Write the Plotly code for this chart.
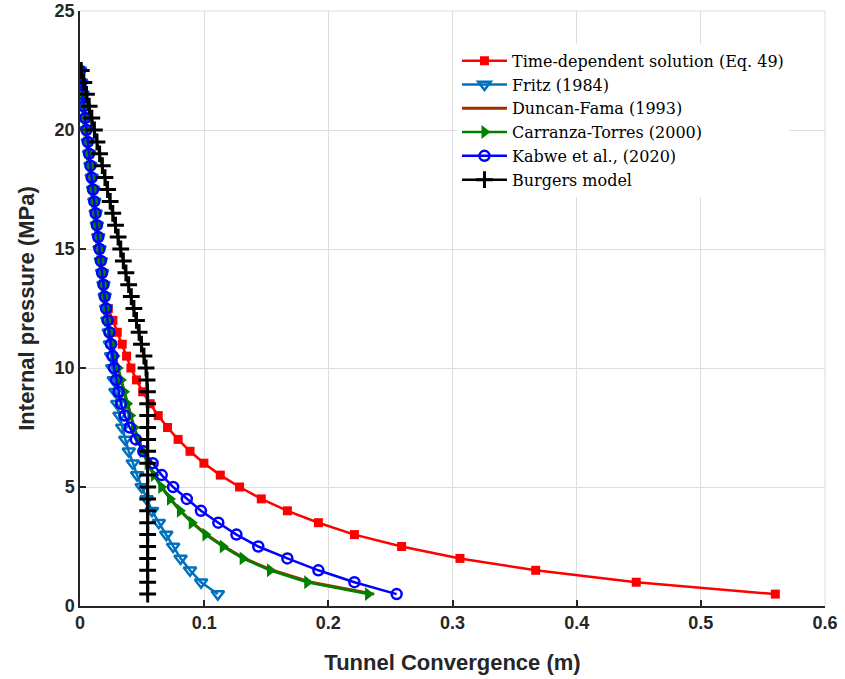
import plotly.graph_objects as go

# Internal pressure (MPa), 22.5 -> 0.5 in 0.5 steps
pressure = [22.5, 22.0, 21.5, 21.0, 20.5, 20.0, 19.5, 19.0, 18.5, 18.0,
            17.5, 17.0, 16.5, 16.0, 15.5, 15.0, 14.5, 14.0, 13.5, 13.0,
            12.5, 12.0, 11.5, 11.0, 10.5, 10.0, 9.5, 9.0, 8.5, 8.0,
            7.5, 7.0, 6.5, 6.0, 5.5, 5.0, 4.5, 4.0, 3.5, 3.0,
            2.5, 2.0, 1.5, 1.0, 0.5]

time_dependent = [0.0000, 0.0010, 0.0021, 0.0031, 0.0042, 0.0052, 0.0063, 0.0073, 0.0084, 0.0094,
                  0.0105, 0.0115, 0.0126, 0.0136, 0.0147, 0.0157, 0.0168, 0.0178, 0.0189, 0.0199,
                  0.0228, 0.0265, 0.0300, 0.0340, 0.0375, 0.0410, 0.0455, 0.0505, 0.0565, 0.0630,
                  0.0705, 0.0790, 0.0886, 0.0998, 0.1130, 0.1285, 0.1460, 0.1670, 0.1920, 0.2210,
                  0.2590, 0.3060, 0.3670, 0.4480, 0.5600]

fritz = [0.0000, 0.0010, 0.0021, 0.0031, 0.0042, 0.0052, 0.0063, 0.0073, 0.0084, 0.0094,
         0.0105, 0.0115, 0.0126, 0.0136, 0.0147, 0.0157, 0.0168, 0.0178, 0.0189, 0.0199,
         0.0210, 0.0220, 0.0231, 0.0241, 0.0250, 0.0260, 0.0272, 0.0285, 0.0300, 0.0318,
         0.0340, 0.0365, 0.0393, 0.0425, 0.0460, 0.0497, 0.0537, 0.0580, 0.0635, 0.0695,
         0.0750, 0.0810, 0.0886, 0.0975, 0.1110]

duncan_fama = [0.0000, 0.0010, 0.0021, 0.0031, 0.0042, 0.0052, 0.0063, 0.0073, 0.0084, 0.0094,
               0.0105, 0.0115, 0.0126, 0.0136, 0.0147, 0.0157, 0.0168, 0.0178, 0.0189, 0.0199,
               0.0210, 0.0220, 0.0241, 0.0261, 0.0281, 0.0306, 0.0331, 0.0356, 0.0381, 0.0406,
               0.0436, 0.0471, 0.0507, 0.0547, 0.0597, 0.0658, 0.0729, 0.0810, 0.0906, 0.1018,
               0.1160, 0.1323, 0.1550, 0.1860, 0.2370]

carranza_torres = [0.0000, 0.0010, 0.0021, 0.0031, 0.0042, 0.0052, 0.0063, 0.0073, 0.0084, 0.0094,
                   0.0105, 0.0115, 0.0126, 0.0136, 0.0147, 0.0157, 0.0168, 0.0178, 0.0189, 0.0199,
                   0.0210, 0.0220, 0.0240, 0.0260, 0.0280, 0.0305, 0.0330, 0.0355, 0.0380, 0.0405,
                   0.0435, 0.0470, 0.0505, 0.0545, 0.0595, 0.0655, 0.0725, 0.0805, 0.0900, 0.1010,
                   0.1150, 0.1310, 0.1530, 0.1830, 0.2320]

kabwe = [0.0000, 0.0010, 0.0021, 0.0031, 0.0042, 0.0052, 0.0063, 0.0073, 0.0084, 0.0094,
         0.0105, 0.0115, 0.0126, 0.0136, 0.0147, 0.0157, 0.0168, 0.0178, 0.0189, 0.0199,
         0.0210, 0.0222, 0.0237, 0.0250, 0.0262, 0.0275, 0.0292, 0.0310, 0.0330, 0.0360,
         0.0400, 0.0450, 0.0510, 0.0585, 0.0658, 0.0750, 0.0860, 0.0974, 0.1114, 0.1260,
         0.1436, 0.1670, 0.1920, 0.2210, 0.2550]

burgers = [0.0010, 0.0031, 0.0052, 0.0074, 0.0095, 0.0116, 0.0137, 0.0158, 0.0180, 0.0201,
           0.0222, 0.0243, 0.0264, 0.0286, 0.0307, 0.0328, 0.0349, 0.0370, 0.0392, 0.0413,
           0.0434, 0.0455, 0.0476, 0.0495, 0.0515, 0.0532, 0.0540, 0.0543, 0.0545, 0.0545,
           0.0545, 0.0545, 0.0545, 0.0545, 0.0545, 0.0545, 0.0545, 0.0545, 0.0545, 0.0545,
           0.0545, 0.0545, 0.0545, 0.0545, 0.0545]

series_names = ["Time-dependent solution (Eq. 49)", "Fritz (1984)", "Duncan-Fama (1993)",
                "Carranza-Torres (2000)", "Kabwe et al., (2020)", "Burgers model"]

x_ticks = [0, 0.1, 0.2, 0.3, 0.4, 0.5, 0.6]
x_tick_labels = ["0", "0.1", "0.2", "0.3", "0.4", "0.5", "0.6"]
y_ticks = [0, 5, 10, 15, 20, 25]
y_tick_labels = ["0", "5", "10", "15", "20", "25"]

fig = go.Figure()

fig.add_trace(go.Scatter(
    x=time_dependent, y=pressure, name=series_names[0], mode="lines+markers",
    line=dict(color="#FF0000", width=2.5),
    marker=dict(symbol="square", size=9, color="#FF0000")))

fig.add_trace(go.Scatter(
    x=fritz, y=pressure, name=series_names[1], mode="lines+markers",
    line=dict(color="#0072BD", width=2.5),
    marker=dict(symbol="triangle-down-open", size=11, color="#0072BD", line=dict(width=2.5))))

fig.add_trace(go.Scatter(
    x=duncan_fama, y=pressure, name=series_names[2], mode="lines",
    line=dict(color="#993300", width=3)))

fig.add_trace(go.Scatter(
    x=carranza_torres, y=pressure, name=series_names[3], mode="lines+markers",
    line=dict(color="#008000", width=2.5),
    marker=dict(symbol="triangle-right", size=12, color="#008000")))

fig.add_trace(go.Scatter(
    x=kabwe, y=pressure, name=series_names[4], mode="lines+markers",
    line=dict(color="#0000FF", width=2.5),
    marker=dict(symbol="circle-open", size=10, color="#0000FF", line=dict(width=2.5))))

fig.add_trace(go.Scatter(
    x=burgers, y=pressure, name=series_names[5], mode="lines+markers",
    line=dict(color="#000000", width=2.5),
    marker=dict(symbol="cross-thin", size=12, color="#000000", line=dict(width=3, color="#000000"))))

axis_font = dict(family="Liberation Sans, Arial, sans-serif", size=18, color="#262626")
title_font = dict(family="Liberation Sans, Arial, sans-serif", size=22, color="#262626")

fig.update_layout(
    width=845, height=679,
    margin=dict(l=80, r=20, t=11, b=73),
    paper_bgcolor="white", plot_bgcolor="white",
    showlegend=True,
    legend=dict(
        x=0.506, y=0.945, xanchor="left", yanchor="top",
        bgcolor="white", borderwidth=0,
        font=dict(family="DejaVu Serif, serif", size=16, color="#000000"),
        tracegroupgap=0, itemwidth=45,
    ),
    xaxis=dict(
        range=[0, 0.6], tickmode="array", tickvals=x_ticks, ticktext=x_tick_labels,
        showgrid=True, gridcolor="#dedede", gridwidth=1, zeroline=False,
        showline=True, linecolor="#262626", linewidth=1.5, mirror=False,
        ticks="inside", ticklen=6, tickwidth=1.5, tickcolor="#262626",
        tickfont=dict(axis_font, weight="bold"), automargin=False,
        ticklabeloverflow="allow",
        title=dict(text="<b>Tunnel Convergence (m)</b>", font=title_font, standoff=22),
    ),
    yaxis=dict(
        range=[0, 25], tickmode="array", tickvals=y_ticks, ticktext=y_tick_labels,
        showgrid=True, gridcolor="#dedede", gridwidth=1, zeroline=False,
        showline=True, linecolor="#262626", linewidth=1.5, mirror=False,
        ticks="inside", ticklen=6, tickwidth=1.5, tickcolor="#262626",
        tickfont=dict(axis_font, weight="bold"), automargin=False,
        ticklabeloverflow="allow",
        title=dict(text="<b>Internal pressure (MPa)</b>", font=title_font, standoff=14),
    ),
    shapes=[
        dict(type="line", xref="paper", yref="paper", x0=0, x1=1, y0=1, y1=1,
             line=dict(color="#dedede", width=1), layer="below"),
        dict(type="line", xref="paper", yref="paper", x0=1, x1=1, y0=0, y1=1,
             line=dict(color="#dedede", width=1), layer="below"),
    ],
)

fig.write_html("out.html", config={"displayModeBar": False},
               post_script="document.body.style.margin='0';document.body.style.padding='0';")
